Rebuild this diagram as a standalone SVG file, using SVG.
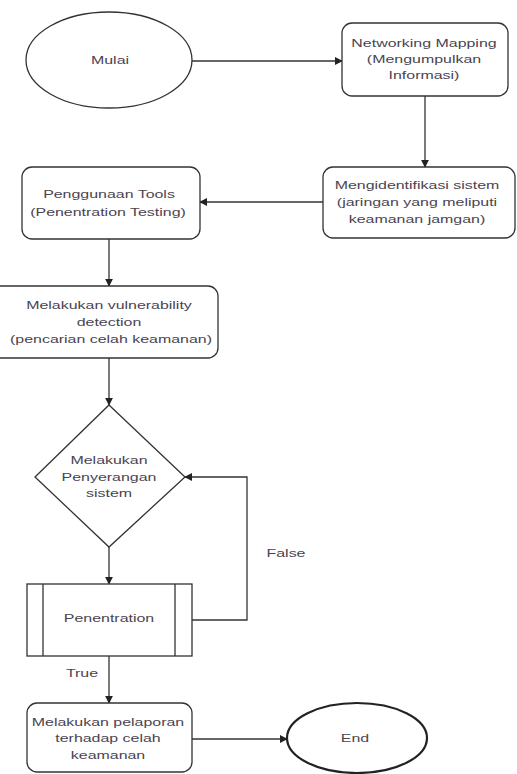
<svg xmlns="http://www.w3.org/2000/svg" width="517" height="774" viewBox="0 0 517 774">
<defs>
<marker id="arr" viewBox="0 0 10 10" refX="9" refY="5" markerWidth="8" markerHeight="8" markerUnits="userSpaceOnUse" orient="auto">
<path d="M0,0 L10,5 L0,10 Z" fill="#222"/>
</marker>
<style>
.shape{fill:#fff;stroke:#333;stroke-width:1.3}
.thick{fill:#fff;stroke:#222;stroke-width:2.2}
.conn{fill:none;stroke:#333;stroke-width:1.3;marker-end:url(#arr)}
.line{fill:none;stroke:#333;stroke-width:1.3}
text{font-family:"Liberation Sans",Arial,sans-serif;font-size:11px;fill:#4a4450;text-anchor:middle}
</style>
</defs>
<rect width="517" height="774" fill="#fff"/>
<g id="connectors">
<path class="conn" d="M192,61 L342,61"/>
<path class="conn" d="M425,96 L425,167"/>
<path class="conn" d="M323,202 L200,202"/>
<path class="conn" d="M109,239 L109,286"/>
<path class="conn" d="M109,358 L109,405"/>
<path class="conn" d="M109,547 L109,584"/>
<path class="conn" d="M192,620 L247,620 L247,477 L185,477"/>
<path class="conn" d="M109,656 L109,703"/>
<path class="conn" d="M192,739 L287,739"/>
<text transform="translate(286 557) scale(1.45 1)">False</text>
<text transform="translate(82 677) scale(1.45 1)">True</text>
</g>
<g id="mulai">
<ellipse class="shape" cx="109" cy="60" rx="83" ry="48"/>
<text transform="translate(110 64) scale(1.45 1)">Mulai</text>
</g>
<g id="networking">
<rect class="shape" x="342" y="23" width="166" height="73" rx="10"/>
<text transform="translate(424 47) scale(1.45 1)">Networking Mapping</text>
<text transform="translate(424 63) scale(1.45 1)">(Mengumpulkan</text>
<text transform="translate(424 79) scale(1.45 1)">Informasi)</text>
</g>
<g id="mengidentifikasi">
<rect class="shape" x="323" y="167" width="192" height="71" rx="10"/>
<text transform="translate(417 189) scale(1.45 1)">Mengidentifikasi sistem</text>
<text transform="translate(417 206) scale(1.45 1)">(jaringan yang meliputi</text>
<text transform="translate(417 223) scale(1.45 1)">keamanan jamgan)</text>
</g>
<g id="penggunaan">
<rect class="shape" x="22" y="167" width="178" height="72" rx="10"/>
<text transform="translate(109 198) scale(1.45 1)">Penggunaan Tools</text>
<text transform="translate(108 216) scale(1.45 1)">(Penentration Testing)</text>
</g>
<g id="vulnerability">
<rect class="shape" x="-12" y="286" width="230" height="72" rx="10"/>
<text transform="translate(109 309) scale(1.45 1)">Melakukan vulnerability</text>
<text transform="translate(109 326) scale(1.45 1)">detection</text>
<text transform="translate(111 343) scale(1.45 1)">(pencarian celah keamanan)</text>
</g>
<g id="penyerangan">
<polygon class="shape" points="109,405 185,477 109,547 35,477"/>
<text transform="translate(109 464) scale(1.45 1)">Melakukan</text>
<text transform="translate(109 481) scale(1.45 1)">Penyerangan</text>
<text transform="translate(109 497) scale(1.45 1)">sistem</text>
</g>
<g id="penentration">
<rect class="shape" x="27" y="584" width="165" height="72"/>
<path class="line" d="M43,584 L43,656 M175,584 L175,656"/>
<text transform="translate(109 622) scale(1.45 1)">Penentration</text>
</g>
<g id="pelaporan">
<rect class="shape" x="27" y="703" width="165" height="69" rx="10"/>
<text transform="translate(108 726) scale(1.45 1)">Melakukan pelaporan</text>
<text transform="translate(108 742) scale(1.45 1)">terhadap celah</text>
<text transform="translate(108 759) scale(1.45 1)">keamanan</text>
</g>
<g id="end">
<ellipse class="thick" cx="357" cy="738" rx="70" ry="35"/>
<text transform="translate(355 742) scale(1.45 1)">End</text>
</g>
</svg>
